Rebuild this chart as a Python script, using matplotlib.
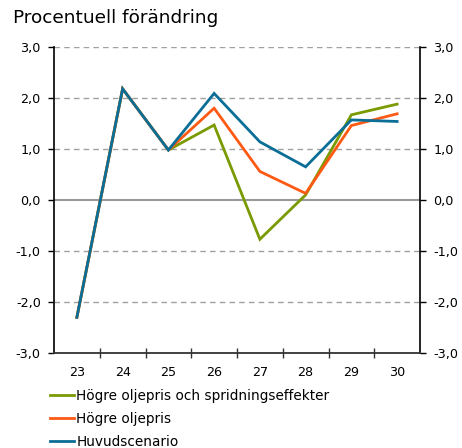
import numpy as np
import matplotlib
matplotlib.use("Agg")
import matplotlib.pyplot as plt

years = ["23", "24", "25", "26", "27", "28", "29", "30"]
spridning = [-2.30, 2.18, 0.98, 1.47, -0.77, 0.10, 1.67, 1.88]
oljepris = [-2.30, 2.18, 0.98, 1.80, 0.56, 0.13, 1.46, 1.69]
huvud = [-2.30, 2.18, 0.98, 2.09, 1.14, 0.65, 1.57, 1.54]

labels = ["Högre oljepris och spridningseffekter", "Högre oljepris", "Huvudscenario"]
colors = ["#7a9a01", "#ff5a14", "#0a6e96"]

plt.rcParams["font.family"] = "DejaVu Sans"

fig = plt.figure(figsize=(4.62, 4.48), dpi=100)
ax = fig.add_axes([54 / 462, 95 / 448, 366 / 462, 306 / 448])

x = np.arange(len(years))
for vals, lab, col in zip([spridning, oljepris, huvud], labels, colors):
    ax.plot(x, vals, color=col, lw=2, label=lab, solid_joinstyle="miter")

ax.set_xlim(-0.5, len(years) - 0.5)
ax.set_ylim(-3, 3)

# dashed grid, solid zero line
for yv in [-2, -1, 1, 2, 3]:
    ax.axhline(yv, color="#a0a0a0", lw=1, ls=(0, (4, 3)), zorder=0)
ax.axhline(0, color="#999999", lw=1.5, zorder=0)

yt = np.arange(-3, 4)
ax.set_yticks(yt)
ax.set_yticklabels([f"{v:.1f}".replace(".", ",") for v in yt])
ax.tick_params(axis="y", which="both", direction="out", length=4.5, width=1,
               labelsize=9.2, left=True, right=True, labelleft=True, labelright=True, pad=5)

ax.set_xticks(x)
ax.set_xticklabels(years)
ax.set_xticks(np.arange(0.5, len(years) - 0.5), minor=True)
ax.tick_params(axis="x", which="major", length=0, labelsize=9.2, pad=9.5)
ax.tick_params(axis="x", which="minor", direction="inout", length=7, width=1, color="#333333")

ax.spines["top"].set_visible(False)
ax.spines["bottom"].set_color("#333333")
ax.spines["bottom"].set_linewidth(1.3)
for s in ["left", "right"]:
    ax.spines[s].set_color("black")
    ax.spines[s].set_linewidth(1.2)

fig.text(13 / 462, 1 - 18 / 448, "Procentuell förändring", fontsize=13.3, va="center", ha="left")

ax.legend(loc="upper left", bbox_to_anchor=(-0.025, -0.1), frameon=False, fontsize=9.8,
          handlelength=1.75, handletextpad=0.15, labelspacing=0.65, borderaxespad=0)

fig.savefig("out.png", dpi=100)
